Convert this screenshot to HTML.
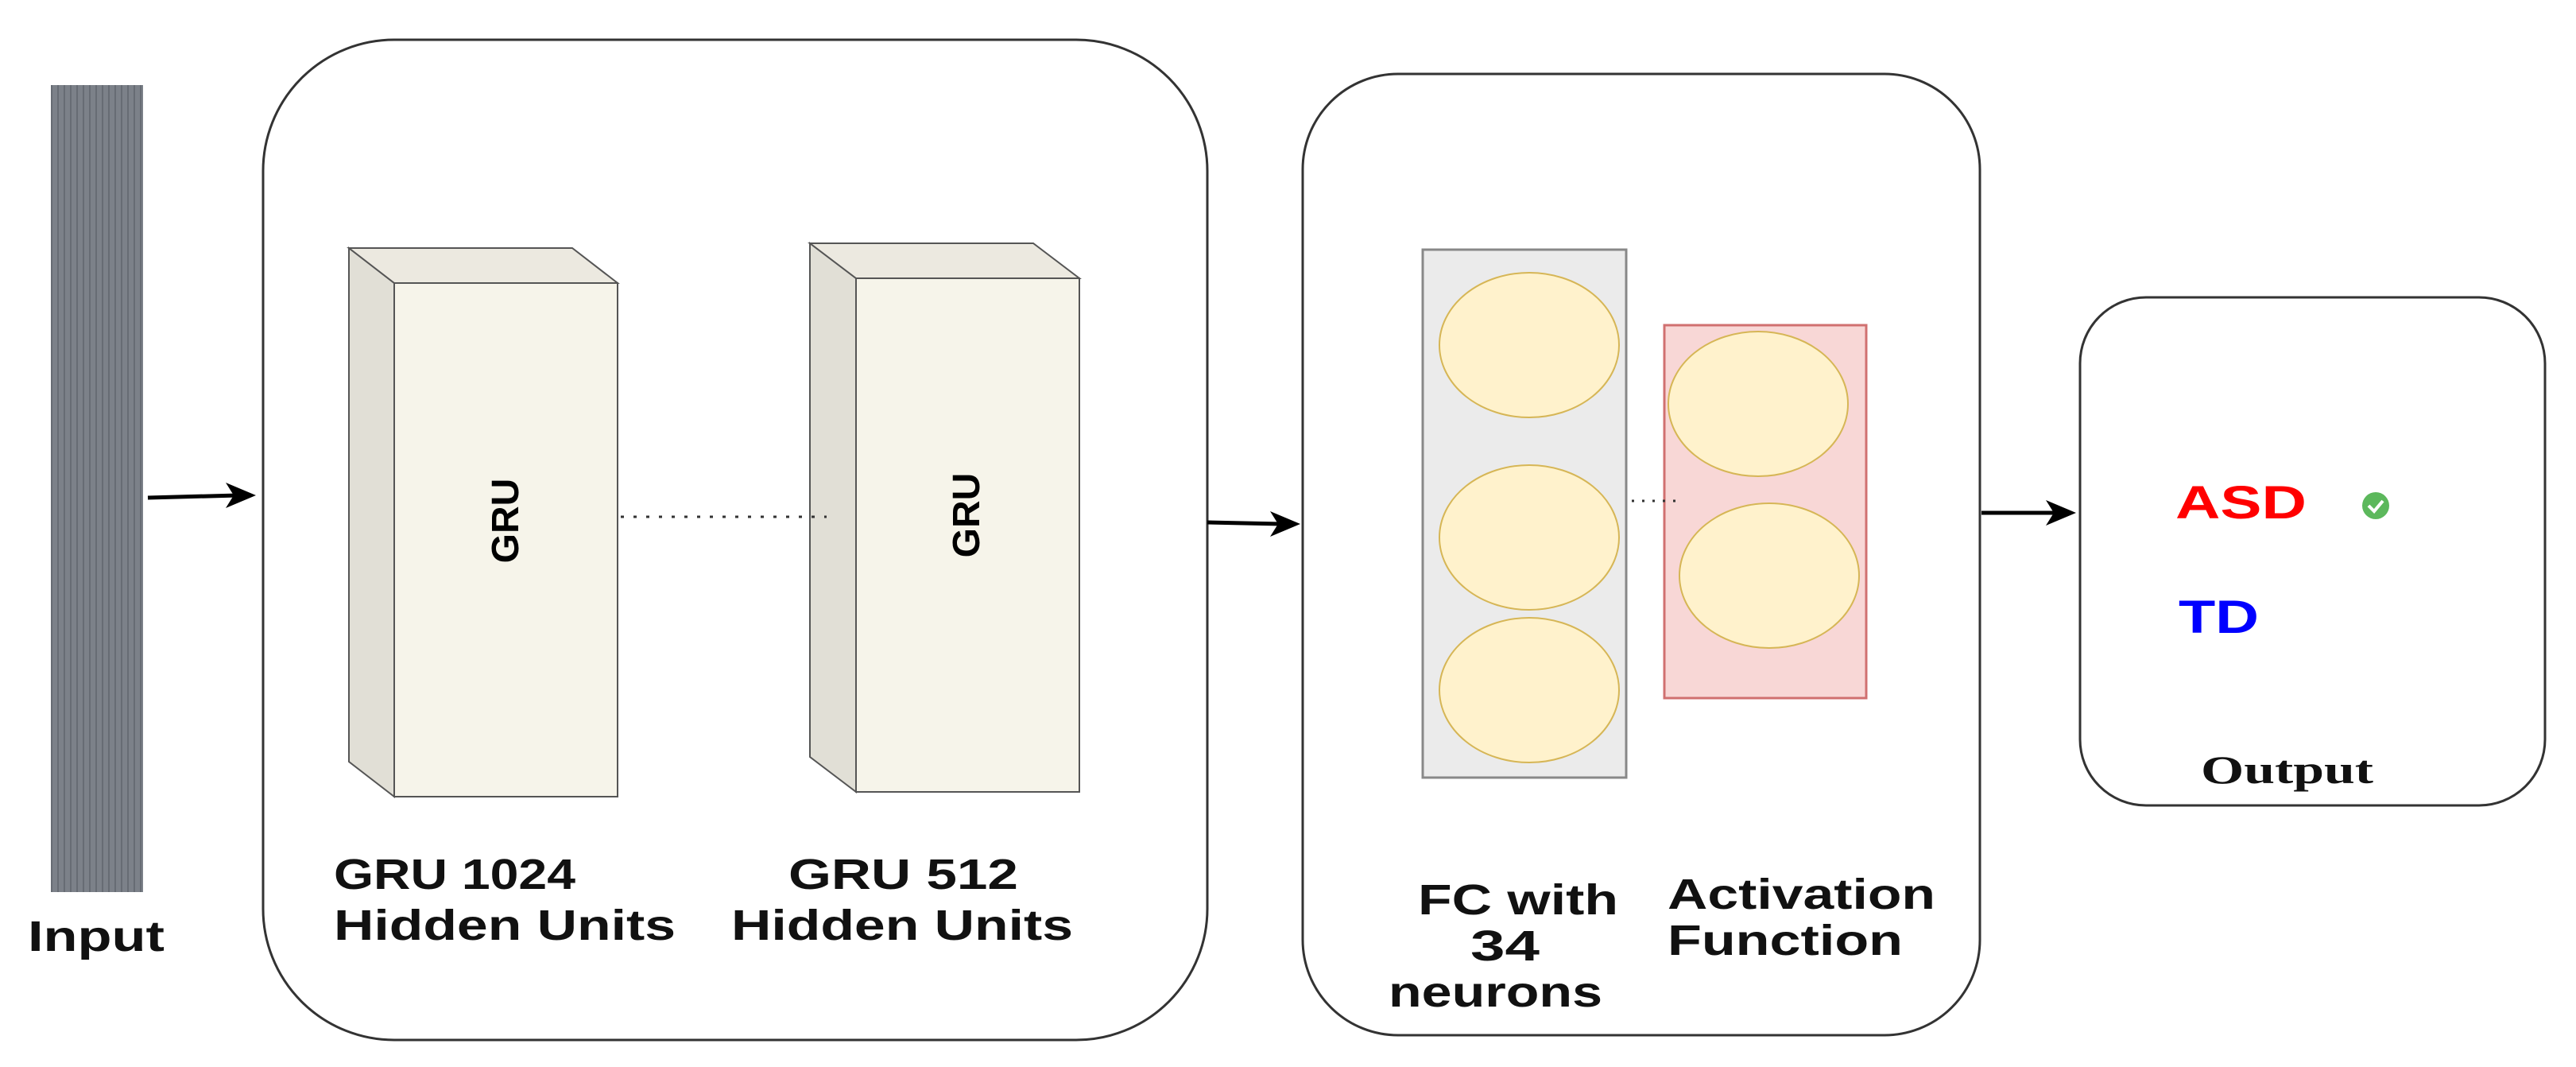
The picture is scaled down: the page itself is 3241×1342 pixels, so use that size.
<!DOCTYPE html>
<html><head><meta charset="utf-8"><style>
html,body{margin:0;padding:0;background:#fff;}
svg{display:block;}
text{font-family:"Liberation Sans",Arial,sans-serif;font-weight:bold;}
</style></head><body>
<svg width="3241" height="1342" viewBox="0 0 3241 1342" xmlns="http://www.w3.org/2000/svg">
<defs>
<pattern id="st" width="8" height="10" patternUnits="userSpaceOnUse">
<rect width="8" height="10" fill="#7c8189"/><rect x="0" width="2" height="10" fill="#676c74"/>
</pattern>
</defs>
<rect x="64" y="107" width="116" height="1015" fill="url(#st)"/>
<text x="35" y="1196" font-size="54" fill="#111" textLength="172" lengthAdjust="spacingAndGlyphs">Input</text>
<line x1="186" y1="626" x2="300" y2="623" stroke="#000" stroke-width="5"/>
<path d="M322 623 L284 607 L294 623 L284 639 Z" fill="#000"/>
<rect x="331" y="50" width="1188" height="1258" rx="165" ry="165" fill="#fff" stroke="#333" stroke-width="3"/>
<polygon points="439,312 496,356 496,1002 439,958" fill="#e1dfd6" stroke="#555" stroke-width="2"/>
<polygon points="439,312 720,312 777,356 496,356" fill="#ece9e0" stroke="#555" stroke-width="2"/>
<rect x="496" y="356" width="281" height="646" fill="#f6f4ea" stroke="#555" stroke-width="2"/>
<text transform="translate(652,655) rotate(-90)" font-size="48" text-anchor="middle" fill="#000">GRU</text>
<polygon points="1019,306 1077,350 1077,996 1019,952" fill="#e1dfd6" stroke="#555" stroke-width="2"/>
<polygon points="1019,306 1300,306 1358,350 1077,350" fill="#ece9e0" stroke="#555" stroke-width="2"/>
<rect x="1077" y="350" width="281" height="646" fill="#f6f4ea" stroke="#555" stroke-width="2"/>
<text transform="translate(1232,648) rotate(-90)" font-size="48" text-anchor="middle" fill="#000">GRU</text>
<line x1="781" y1="650" x2="1040" y2="650" stroke="#333" stroke-width="3" stroke-dasharray="4,12"/>
<text x="420" y="1118" font-size="54" fill="#111" textLength="304" lengthAdjust="spacingAndGlyphs">GRU 1024</text>
<text x="420" y="1182" font-size="54" fill="#111" textLength="430" lengthAdjust="spacingAndGlyphs">Hidden Units</text>
<text x="992" y="1118" font-size="54" fill="#111" textLength="289" lengthAdjust="spacingAndGlyphs">GRU 512</text>
<text x="920" y="1182" font-size="54" fill="#111" textLength="430" lengthAdjust="spacingAndGlyphs">Hidden Units</text>
<line x1="1519" y1="657" x2="1612" y2="659" stroke="#000" stroke-width="5"/>
<path d="M1636 659 L1598 643 L1608 659 L1598 675 Z" fill="#000"/>
<rect x="1639" y="93" width="852" height="1209" rx="120" ry="120" fill="#fff" stroke="#333" stroke-width="3"/>
<rect x="1790" y="314" width="256" height="664" fill="#ebebeb" stroke="#888" stroke-width="3"/>
<ellipse cx="1924" cy="434" rx="113" ry="91" fill="#fff2cc" stroke="#d6b656" stroke-width="2"/>
<ellipse cx="1924" cy="676" rx="113" ry="91" fill="#fff2cc" stroke="#d6b656" stroke-width="2"/>
<ellipse cx="1924" cy="868" rx="113" ry="91" fill="#fff2cc" stroke="#d6b656" stroke-width="2"/>
<rect x="2094" y="409" width="254" height="469" fill="#f8d7d6" stroke="#d07070" stroke-width="3"/>
<ellipse cx="2212" cy="508" rx="113" ry="91" fill="#fff2cc" stroke="#d6b656" stroke-width="2"/>
<ellipse cx="2226" cy="724" rx="113" ry="91" fill="#fff2cc" stroke="#d6b656" stroke-width="2"/>
<line x1="2053" y1="630" x2="2110" y2="630" stroke="#333" stroke-width="3" stroke-dasharray="3,10"/>
<text x="1784" y="1150" font-size="54" fill="#111" textLength="252" lengthAdjust="spacingAndGlyphs">FC with</text>
<text x="1850" y="1208" font-size="54" fill="#111" textLength="87" lengthAdjust="spacingAndGlyphs">34</text>
<text x="1747" y="1266" font-size="54" fill="#111" textLength="269" lengthAdjust="spacingAndGlyphs">neurons</text>
<text x="2098" y="1143" font-size="54" fill="#111" textLength="337" lengthAdjust="spacingAndGlyphs">Activation</text>
<text x="2098" y="1201" font-size="54" fill="#111" textLength="296" lengthAdjust="spacingAndGlyphs">Function</text>
<line x1="2493" y1="645" x2="2588" y2="645" stroke="#000" stroke-width="5"/>
<path d="M2612 645 L2574 629 L2584 645 L2574 661 Z" fill="#000"/>
<rect x="2617" y="374" width="585" height="639" rx="83" ry="83" fill="#fff" stroke="#333" stroke-width="3"/>
<text x="2737" y="652" font-size="58" fill="#ff0000" textLength="165" lengthAdjust="spacingAndGlyphs">ASD</text>
<circle cx="2989" cy="636" r="17" fill="#5cb85c"/>
<path d="M2980 636 L2987 643 L2998 630" fill="none" stroke="#fff" stroke-width="4"/>
<text x="2741" y="796" font-size="58" fill="#0000ff" textLength="101" lengthAdjust="spacingAndGlyphs">TD</text>
<text x="2769" y="985" font-size="50" fill="#111" textLength="217" lengthAdjust="spacingAndGlyphs" style="font-family:'Liberation Serif',serif;font-weight:bold">Output</text>
</svg>
</body></html>
